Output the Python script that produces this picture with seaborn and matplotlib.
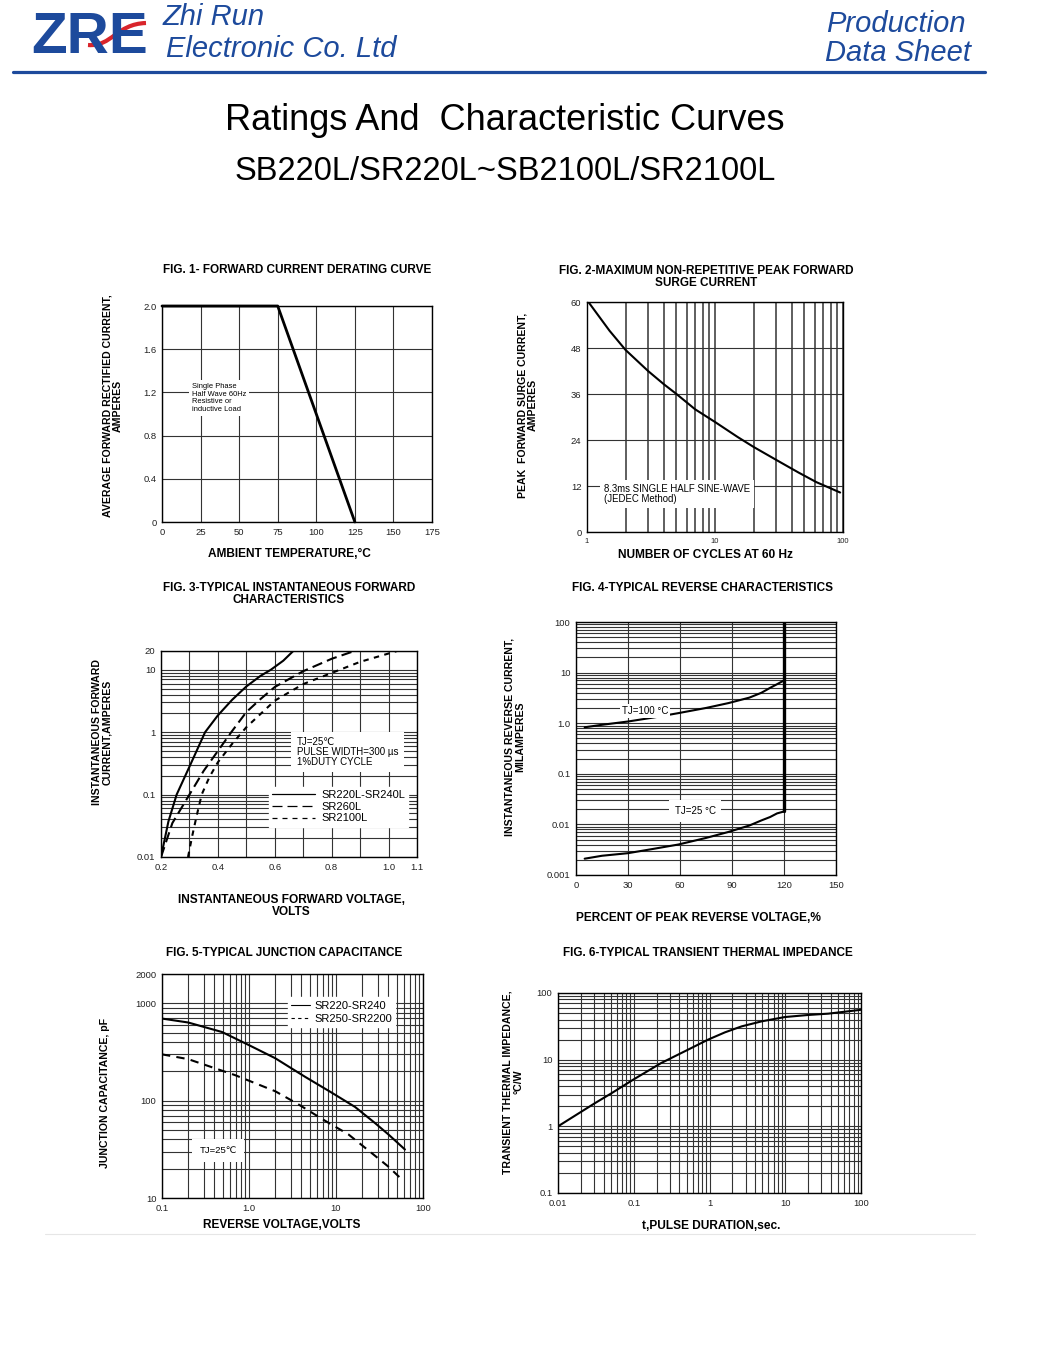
import matplotlib
matplotlib.use("Agg")
import matplotlib.pyplot as plt
import seaborn as sns
from matplotlib.lines import Line2D
from matplotlib.path import Path
from matplotlib.patches import PathPatch
from matplotlib.ticker import FixedLocator, NullFormatter

W, H = 1040, 1366
BLUE = "#1d4a9c"
GRID = "#333333"

# ---- data ----
# Fig 1 derating
temp_c = [0, 75, 125]
avg_current = [2.0, 2.0, 0.0]

# Fig 2 surge current
cycles = [1, 1.5, 2, 3, 4, 5, 7, 10, 15, 20, 32, 45, 62, 75, 95]
surge_a = [60.5, 52.5, 47.5, 42, 38.5, 36, 32, 28.7, 24.8, 22.2, 18.3, 15.5, 13, 11.8, 10.3]

# Fig 3 forward characteristics
vf_240 = [0.20, 0.226, 0.255, 0.30, 0.355, 0.40, 0.45, 0.50, 0.55, 0.586, 0.63, 0.665]
if_240 = [0.01, 0.037, 0.1, 0.28, 1.0, 1.86, 3.3, 5.4, 8.0, 10, 14, 20]
vf_260 = [0.20, 0.24, 0.30, 0.35, 0.40, 0.447, 0.50, 0.55, 0.60, 0.70, 0.80, 0.88]
if_260 = [0.01, 0.035, 0.1, 0.24, 0.5, 1.0, 2.1, 3.4, 5.3, 9.5, 15, 20]
vf_2100 = [0.295, 0.31, 0.325, 0.343, 0.37, 0.40, 0.45, 0.50, 0.60, 0.70, 0.80, 0.90, 1.03]
if_2100 = [0.01, 0.022, 0.045, 0.1, 0.19, 0.33, 0.65, 1.2, 3.2, 5.9, 8.9, 13.4, 20]
fig3_series = ["SR220L-SR240L", "SR260L", "SR2100L"]

# Fig 4 reverse characteristics
pct_vr = [5, 15, 30, 45, 59, 75, 88, 100, 107, 112, 116, 120]
ir_100c = [0.83, 0.93, 1.08, 1.3, 1.58, 2.0, 2.5, 3.2, 4.0, 5.0, 5.9, 7.0]
ir_25c = [0.0021, 0.0024, 0.0027, 0.0033, 0.004, 0.0054, 0.0071, 0.0095, 0.012, 0.014, 0.0165, 0.018]
pct_bd = [120, 120]
ir_bd = [0.018, 100]

# Fig 5 junction capacitance
vr_a = [0.1, 0.2, 0.49, 0.98, 2.0, 4.4, 8.9, 16.6, 28, 40, 62]
cj_a = [697, 635, 507, 375, 273, 176, 121, 86, 59, 45, 31.5]
vr_b = [0.1, 0.2, 0.69, 2.0, 3.6, 7.3, 13.9, 25.9, 40, 59]
cj_b = [299, 267, 183, 125, 93, 63, 45, 28.8, 21, 15.1]
fig5_series = ["SR220-SR240", "SR250-SR2200"]

# Fig 6 transient thermal impedance
pulse_s = [0.01, 0.02, 0.031, 0.05, 0.098, 0.23, 0.5, 0.96, 1.6, 2.66, 4.9, 9.9, 20, 37, 100]
zth = [1.0, 1.64, 2.24, 3.1, 5.0, 8.9, 13.8, 20, 25.7, 31.6, 37.6, 43.6, 46.8, 49, 56]

sns.set_style("white")
plt.rcParams["font.family"] = ["Liberation Sans", "DejaVu Sans"]
plt.rcParams["text.color"] = "black"

fig = plt.figure(figsize=(W / 100, H / 100), dpi=100)


def px_axes(left, top, right, bottom):
    return fig.add_axes([left / W, 1 - bottom / H, (right - left) / W, (bottom - top) / H])


def ftext(x, y, s, **kw):
    return fig.text(x / W, 1 - y / H, s, **kw)


def log_minors(lo, hi):
    out = []
    e = lo
    while e < hi:
        out += [m * 10.0 ** e for m in range(2, 10)]
        e += 1
    return out


def style_axes(ax):
    ax.set_axisbelow(True)
    ax.grid(which="both", color=GRID, lw=0.8)
    ax.tick_params(which="both", length=0, labelsize=6.8, colors="#222222", pad=4)
    for s in ax.spines.values():
        s.set_color("black")
        s.set_linewidth(1.0)
    ax.set_xlabel("")
    ax.set_ylabel("")


def set_log(axis, majors, labels, minors):
    axis.set_major_locator(FixedLocator(majors))
    axis.set_minor_locator(FixedLocator(minors))
    axis.set_minor_formatter(NullFormatter())
    axis.set_ticklabels(labels)


title_kw = dict(fontsize=8.5, weight="bold", ha="center", va="center", linespacing=1.0)
xl_kw = dict(fontsize=8.6, weight="bold", ha="center", va="center", linespacing=1.0)
yl_kw = dict(fontsize=7.6, weight="bold", ha="center", va="center", rotation=90, linespacing=1.05)
box = dict(facecolor="white", edgecolor="none", pad=2)

# ---------------- header ----------------
hdr_family = ["Liberation Sans Narrow", "Liberation Sans", "DejaVu Sans"]
ftext(31, 53, "ZRE", fontsize=42, weight="bold", color=BLUE, family=hdr_family, va="baseline")
swoosh = Path([(88 / W, 1 - 45 / H), (112 / W, 1 - 47 / H), (116 / W, 1 - 24 / H), (146 / W, 1 - 23 / H)],
              [Path.MOVETO, Path.CURVE4, Path.CURVE4, Path.CURVE4])
fig.add_artist(PathPatch(swoosh, transform=fig.transFigure, fill=False, edgecolor="#d9252b", lw=3))
ftext(163, 25, "Zhi Run", fontsize=21, style="italic", color=BLUE, family=hdr_family, va="baseline")
ftext(166, 57, "Electronic Co. Ltd", fontsize=21, style="italic", color=BLUE, family=hdr_family, va="baseline")
ftext(966, 32, "Production", fontsize=21, style="italic", color=BLUE, family=hdr_family, va="baseline", ha="right")
ftext(971, 61, "Data Sheet", fontsize=21, style="italic", color=BLUE, family=hdr_family, va="baseline", ha="right")
fig.add_artist(Line2D([13 / W, 985 / W], [1 - 72 / H, 1 - 72 / H], color=BLUE, lw=2.3))

ftext(505, 120, "Ratings And  Characteristic Curves", fontsize=26, ha="center", va="center")
ftext(505, 171, "SB220L/SR220L~SB2100L/SR2100L", fontsize=23.5, ha="center", va="center")

# ---------------- Fig 1 ----------------
ax1 = px_axes(162, 306, 432, 522)
sns.lineplot(x=temp_c, y=avg_current, ax=ax1, color="black", lw=2, estimator=None, sort=False,
             clip_on=False, zorder=4)
ax1.set_xlim(0, 175)
ax1.set_ylim(0, 2.0)
ax1.set_xticks([0, 25, 50, 75, 100, 125, 150, 175])
ax1.set_yticks([0, 0.4, 0.8, 1.2, 1.6, 2.0])
ax1.set_yticklabels(["0", "0.4", "0.8", "1.2", "1.6", "2.0"])
style_axes(ax1)
ax1.text(0.11, 0.574, "Single Phase\nHalf Wave 60Hz\nResistive or\ninductive Load", transform=ax1.transAxes,
         fontsize=5.4, va="center", ha="left", linespacing=1.1, bbox=box)
ftext(297, 270, "FIG. 1- FORWARD CURRENT DERATING CURVE", **title_kw)
ftext(113, 406, "AVERAGE FORWARD RECTIFIED CURRENT,\nAMPERES", **yl_kw)
ftext(289, 554, "AMBIENT TEMPERATURE,°C", **xl_kw)

# ---------------- Fig 2 ----------------
ax2 = px_axes(587, 302, 843, 532)
sns.lineplot(x=cycles, y=surge_a, ax=ax2, color="black", lw=1.5, estimator=None, sort=False)
ax2.set_xscale("log")
ax2.set_xlim(1, 100)
ax2.set_ylim(0, 60)
set_log(ax2.xaxis, [1, 10, 100], ["1", "10", "100"], log_minors(0, 2))
ax2.set_yticks([0, 12, 24, 36, 48, 60])
style_axes(ax2)
ax2.tick_params(axis="x", labelsize=5.5)
ax2.grid(which="both", axis="x", color=GRID, lw=1.1)
ax2.text(0.066, 0.165, "8.3ms SINGLE HALF SINE-WAVE\n(JEDEC Method)", transform=ax2.transAxes,
         fontsize=6.9, va="center", ha="left", linespacing=1.0,
         bbox=dict(facecolor="white", edgecolor="none", pad=3))
ftext(706, 277, "FIG. 2-MAXIMUM NON-REPETITIVE PEAK FORWARD\nSURGE CURRENT", **title_kw)
ftext(528, 405, "PEAK  FORWARD SURGE CURRENT,\nAMPERES", **yl_kw)
ftext(705, 555, "NUMBER OF CYCLES AT 60 Hz", **xl_kw)

# ---------------- Fig 3 ----------------
ax3 = px_axes(161, 651, 417, 857)
ls3 = ["-", (0, (5, 2.5)), (0, (2.6, 2.6))]
for xs, ys, ls in zip([vf_240, vf_260, vf_2100], [if_240, if_260, if_2100], ls3):
    sns.lineplot(x=xs, y=ys, ax=ax3, color="black", lw=1.5, linestyle=ls, estimator=None, sort=False)
ax3.set_yscale("log")
ax3.set_xlim(0.2, 1.1)
ax3.set_ylim(0.01, 20)
ax3.xaxis.set_major_locator(FixedLocator([0.2, 0.4, 0.6, 0.8, 1.0, 1.1]))
ax3.xaxis.set_minor_locator(FixedLocator([0.3, 0.5, 0.7, 0.9]))
ax3.set_xticklabels(["0.2", "0.4", "0.6", "0.8", "1.0", "1.1"])
set_log(ax3.yaxis, [0.01, 0.1, 1, 10, 20], ["0.01", "0.1", "1", "10", "20"], log_minors(-2, 1))
style_axes(ax3)
ax3.text(0.53, 0.51, "TJ=25℃\nPULSE WIDTH=300 µs\n1%DUTY CYCLE", transform=ax3.transAxes,
         fontsize=7, va="center", ha="left", linespacing=0.95,
         bbox=dict(facecolor="white", edgecolor="none", pad=4))
h3 = [Line2D([], [], color="black", lw=0.9, linestyle=ls) for ls in ["-", (0, (8, 4)), (0, (4, 4))]]
ax3.legend(h3, fig3_series, loc="lower left", bbox_to_anchor=(0.40, 0.12), fontsize=8,
           handlelength=3.8, handletextpad=0.6, labelspacing=0.15, borderpad=0.3,
           frameon=True, fancybox=False, framealpha=1, edgecolor="white", facecolor="white")
ftext(289, 594, "FIG. 3-TYPICAL INSTANTANEOUS FORWARD\nCHARACTERISTICS", **title_kw)
ftext(102, 732, "INSTANTANEOUS FORWARD\nCURRENT,AMPERES", **yl_kw)
ftext(291, 906, "INSTANTANEOUS FORWARD VOLTAGE,\nVOLTS", **xl_kw)

# ---------------- Fig 4 ----------------
ax4 = px_axes(576, 622, 836, 875)
sns.lineplot(x=pct_vr, y=ir_100c, ax=ax4, color="black", lw=1.5, estimator=None, sort=False)
sns.lineplot(x=pct_vr, y=ir_25c, ax=ax4, color="black", lw=1.5, estimator=None, sort=False)
sns.lineplot(x=pct_bd, y=ir_bd, ax=ax4, color="black", lw=2.4, estimator=None, sort=False)
ax4.set_yscale("log")
ax4.set_xlim(0, 150)
ax4.set_ylim(0.001, 100)
ax4.set_xticks([0, 30, 60, 90, 120, 150])
set_log(ax4.yaxis, [0.001, 0.01, 0.1, 1, 10, 100],
        ["0.001", "0.01", "0.1", "1.0", "10", "100"], log_minors(-3, 2))
style_axes(ax4)
ax4.text(0.177, 0.648, "TJ=100 °C", transform=ax4.transAxes, fontsize=7, va="center", ha="left",
         bbox=dict(facecolor="white", edgecolor="none", pad=1.5))
ax4.text(0.458, 0.253, "TJ=25 °C", transform=ax4.transAxes, fontsize=7, va="center", ha="center",
         bbox=dict(facecolor="white", edgecolor="none", pad=4))
ftext(702, 588, "FIG. 4-TYPICAL REVERSE CHARACTERISTICS", **title_kw)
ftext(515, 737, "INSTANTANEOUS REVERSE CURRENT,\nMILAMPERES", **yl_kw)
ftext(699, 918, "PERCENT OF PEAK REVERSE VOLTAGE,%", **xl_kw)

# ---------------- Fig 5 ----------------
ax5 = px_axes(162, 974, 423, 1198)
sns.lineplot(x=vr_a, y=cj_a, ax=ax5, color="black", lw=1.5, estimator=None, sort=False)
sns.lineplot(x=vr_b, y=cj_b, ax=ax5, color="black", lw=1.5, linestyle=(0, (4, 3)), estimator=None, sort=False)
ax5.set_xscale("log")
ax5.set_yscale("log")
ax5.set_xlim(0.1, 100)
ax5.set_ylim(10, 2000)
set_log(ax5.xaxis, [0.1, 1, 10, 100], ["0.1", "1.0", "10", "100"], log_minors(-1, 2))
set_log(ax5.yaxis, [10, 100, 1000, 2000], ["10", "100", "1000", "2000"], log_minors(1, 3))
style_axes(ax5)
h5 = [Line2D([], [], color="black", lw=0.8, linestyle=ls) for ls in ["-", (0, (3, 3))]]
ax5.legend(h5, fig5_series, loc="upper left", bbox_to_anchor=(0.46, 0.92), fontsize=8,
           handlelength=1.7, handletextpad=0.4, labelspacing=0.3, borderpad=0.3,
           frameon=True, fancybox=False, framealpha=1, edgecolor="white", facecolor="white")
ax5.text(0.215, 0.214, "TJ=25℃", transform=ax5.transAxes, fontsize=6.8,
         va="center", ha="center", bbox=dict(facecolor="white", edgecolor="none", pad=5))
ftext(284, 953, "FIG. 5-TYPICAL JUNCTION CAPACITANCE", **title_kw)
ftext(105, 1093, "JUNCTION CAPACITANCE, pF", **yl_kw)
ftext(282, 1225, "REVERSE VOLTAGE,VOLTS", **xl_kw)

# ---------------- Fig 6 ----------------
ax6 = px_axes(558, 993, 861, 1193)
sns.lineplot(x=pulse_s, y=zth, ax=ax6, color="black", lw=1.5, estimator=None, sort=False)
ax6.set_xscale("log")
ax6.set_yscale("log")
ax6.set_xlim(0.01, 100)
ax6.set_ylim(0.1, 100)
set_log(ax6.xaxis, [0.01, 0.1, 1, 10, 100], ["0.01", "0.1", "1", "10", "100"], log_minors(-2, 2))
set_log(ax6.yaxis, [0.1, 1, 10, 100], ["0.1", "1", "10", "100"], log_minors(-1, 2))
style_axes(ax6)
ftext(708, 953, "FIG. 6-TYPICAL TRANSIENT THERMAL IMPEDANCE", **title_kw)
ftext(513, 1082, "TRANSIENT THERMAL IMPEDANCE,\n°C/W", **yl_kw)
ftext(711, 1226, "t,PULSE DURATION,sec.", **xl_kw)

fig.add_artist(Line2D([45 / W, 975 / W], [1 - 1234 / H, 1 - 1234 / H], color="#e6e6e6", lw=0.8))

fig.savefig("out.png", dpi=100, facecolor="white")
